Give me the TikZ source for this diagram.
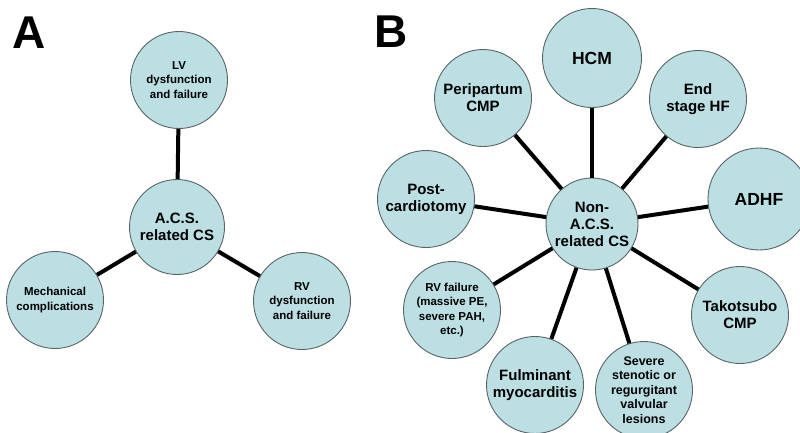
\documentclass[tikz,border=0pt]{standalone}
\usepackage{fontspec}
\setmainfont{Liberation Sans}
\definecolor{cspale}{RGB}{187,223,227}
\definecolor{csrim}{RGB}{90,100,100}
\begin{document}
\begin{tikzpicture}[x=1pt, y=-1pt,
  cs/.style={circle, draw=csrim, line width=0.9pt, fill=cspale, minimum size=97pt, inner sep=0pt, align=center},
  tiny/.style={font=\bfseries\fontsize{11.5}{14.5}\selectfont},
  small/.style={font=\bfseries\fontsize{12.5}{14.5}\selectfont},
  medium/.style={font=\bfseries\fontsize{15}{17}\selectfont},
  large/.style={font=\bfseries\fontsize{17.5}{19}\selectfont},
  link/.style={line width=4pt}]
\useasboundingbox (0,0) rectangle (800,432);
% Panel A: ACS related
\node[font=\bfseries\fontsize{46}{46}\selectfont] (labA) at (29,33) {A};
\node[cs, medium, minimum size=95pt] (acs) at (177,227) {A.C.S.\\related CS};
\node[cs, tiny] (lv) at (179,80) {LV\\dysfunction\\and failure};
\node[cs, tiny] (mech) at (55,300) {Mechanical\\complications};
\node[cs, tiny] (rv) at (302,301) {RV\\dysfunction\\and failure};
\draw[link] (acs) -- (lv);
\draw[link] (acs) -- (mech);
\draw[link] (acs) -- (rv);

% Panel B: non-ACS related
\node[font=\bfseries\fontsize{46}{46}\selectfont] (labB) at (391,32) {B};
\node[cs, medium, minimum size=92pt] (nacs) at (592,224) {Non-\\A.C.S.\\related CS};
\node[cs, large, minimum size=99pt] (hcm) at (592,58) {HCM};
\node[cs, medium] (endhf) at (698,99) {End\\stage HF};
\node[cs, large, minimum size=102pt] (adhf) at (759,199) {ADHF};
\node[cs, medium] (tako) at (740,315) {Takotsubo\\CMP};
\node[cs, small] (valv) at (644,390) {Severe\\stenotic or\\regurgitant\\valvular\\lesions};
\node[cs, medium] (fulm) at (535,385) {Fulminant\\myocarditis};
\node[cs, tiny] (rvf) at (452,310) {RV failure\\(massive PE,\\severe PAH,\\etc.)};
\node[cs, medium] (post) at (426,199) {Post-\\cardiotomy};
\node[cs, medium] (peri) at (483,98) {Peripartum\\CMP};
\foreach \n in {hcm,endhf,adhf,tako,valv,fulm,rvf,post,peri}
  \draw[link] (nacs) -- (\n);
\end{tikzpicture}
\end{document}
